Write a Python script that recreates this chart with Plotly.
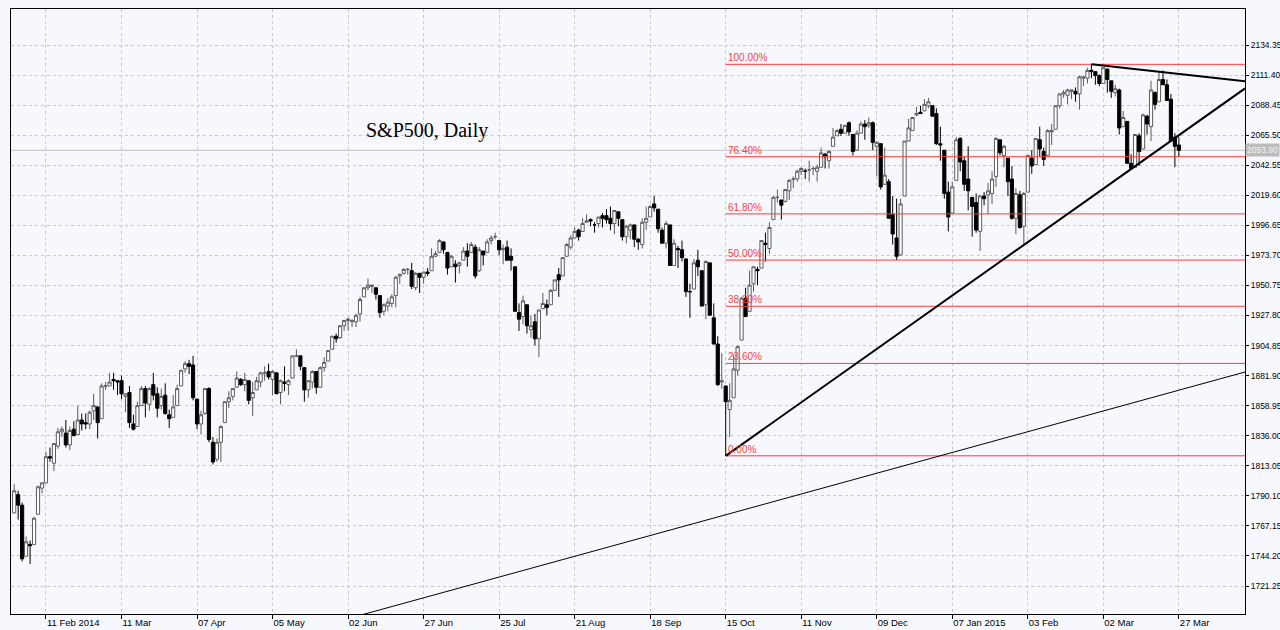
import pandas as pd
import plotly.graph_objects as go

# ---------------- data ----------------
holidays = ["2014-02-17", "2014-04-18", "2014-05-26", "2014-07-04", "2014-09-01",
            "2014-11-27", "2014-12-25", "2015-01-01"]
dates = pd.bdate_range("2014-01-30", "2015-03-27", freq="C", holidays=holidays)
date_strs = [d.strftime("%Y-%m-%d") for d in dates]

opens = [
    1777, 1791,
    1783, 1744, 1753, 1753, 1776, 1796, 1800, 1820, 1815, 1828, 1839, 1838, 1829, 1841, 1837, 1848, 1846, 1845, 1855,
    1858, 1849, 1874, 1874, 1879, 1878, 1878, 1866, 1869, 1845, 1843, 1859, 1872, 1860, 1875, 1868, 1859, 1867, 1852, 1850, 1859,
    1874, 1887, 1891, 1890, 1864, 1845, 1853, 1872, 1831, 1818, 1831, 1846, 1862, 1866, 1873, 1879, 1875, 1878, 1865, 1871, 1877,
    1884, 1885, 1879, 1884, 1869, 1877, 1875, 1880, 1897, 1897, 1888, 1871, 1877, 1885, 1873, 1888, 1893, 1902, 1912, 1911, 1920,
    1924, 1923, 1923, 1929, 1942, 1949, 1950, 1949, 1943, 1931, 1935, 1937, 1943, 1958, 1960, 1963, 1962, 1949, 1960, 1957, 1961,
    1962, 1973, 1976, 1984, 1976, 1965, 1967, 1966, 1970, 1977, 1976, 1980, 1962, 1977, 1976, 1985, 1988, 1985, 1978, 1980, 1973, 1965,
    1930, 1927, 1936, 1917, 1923, 1910, 1933, 1936, 1936, 1947, 1959, 1958, 1973, 1980, 1987, 1993, 1992, 1999, 2001, 1997, 1998,
    2004, 2004, 2002, 1998, 2007, 2001, 1988, 1993, 1997, 1986, 1982, 1999, 2003, 2013, 2009, 1993, 1983, 1997, 1966, 1979, 1978,
    1971, 1946, 1948, 1970, 1962, 1936, 1968, 1926, 1906, 1877, 1874, 1856, 1865, 1886, 1909, 1941, 1931, 1952, 1963, 1964, 1983, 1979, 2001,
    2018, 2016, 2015, 2023, 2032, 2032, 2038, 2038, 2039, 2040, 2038, 2041, 2051, 2046, 2057, 2065, 2070, 2067, 2075,
    2066, 2054, 2067, 2074, 2073, 2075, 2057, 2059, 2028, 2030, 2005, 1987, 1974, 2019, 2061, 2069, 2081, 2083, 2084, 2088, 2088, 2082,
    2059, 2054, 2022, 2006, 2031, 2063, 2046, 2032, 2018, 2014, 1992, 2019, 2020, 2021, 2034, 2062, 2050, 2048, 2032, 2002, 2020,
    1996, 2022, 2048, 2043, 2062, 2053, 2050, 2068, 2070, 2088, 2097, 2096, 2099, 2099, 2097, 2109, 2109, 2115, 2114, 2111,
    2105, 2116, 2107, 2098, 2100, 2072, 2076, 2044, 2041, 2065, 2055, 2080, 2072, 2098, 2091, 2108, 2104, 2093, 2064, 2058,
]
highs = [
    1799, 1794,
    1785, 1759, 1756, 1774, 1798, 1800, 1824, 1827, 1830, 1842, 1843, 1848, 1843, 1847, 1859, 1853, 1853, 1855, 1868,
    1858, 1876, 1877, 1884, 1884, 1878, 1882, 1868, 1874, 1852, 1862, 1874, 1874, 1873, 1884, 1873, 1872, 1876, 1856, 1867, 1875,
    1886, 1893, 1894, 1897, 1864, 1855, 1872, 1873, 1835, 1834, 1844, 1862, 1870, 1872, 1885, 1880, 1884, 1878, 1877, 1881, 1885,
    1889, 1891, 1886, 1884, 1879, 1889, 1879, 1897, 1902, 1897, 1888, 1878, 1886, 1885, 1889, 1896, 1901, 1912, 1914, 1920, 1924,
    1926, 1925, 1929, 1942, 1949, 1956, 1951, 1949, 1943, 1937, 1941, 1944, 1958, 1960, 1964, 1964, 1968, 1961, 1960, 1961, 1964,
    1979, 1977, 1986, 1984, 1976, 1974, 1970, 1969, 1980, 1983, 1984, 1982, 1980, 1977, 1986, 1989, 1991, 1985, 1982, 1985, 1979, 1965,
    1937, 1943, 1936, 1928, 1929, 1932, 1945, 1940, 1948, 1955, 1964, 1972, 1983, 1989, 1995, 1994, 2002, 2005, 2002, 1999, 2003,
    2006, 2009, 2011, 2008, 2007, 2001, 1997, 1998, 1997, 1987, 2002, 2011, 2012, 2019, 2009, 1995, 2000, 1997, 1986, 1981, 1985,
    1971, 1952, 1971, 1978, 1962, 1970, 1968, 1937, 1912, 1899, 1874, 1876, 1898, 1905, 1942, 1949, 1962, 1965, 1965, 1985, 1991, 1999, 2019,
    2024, 2016, 2024, 2032, 2034, 2039, 2041, 2040, 2046, 2042, 2043, 2056, 2052, 2054, 2071, 2070, 2074, 2073, 2076,
    2066, 2069, 2076, 2077, 2079, 2076, 2061, 2059, 2056, 2032, 2019, 2017, 2017, 2061, 2078, 2079, 2087, 2088, 2093, 2094, 2088, 2086,
    2072, 2054, 2030, 2030, 2064, 2064, 2049, 2057, 2018, 2021, 2020, 2022, 2029, 2038, 2064, 2062, 2058, 2048, 2042, 2025, 2023,
    2022, 2050, 2054, 2063, 2072, 2056, 2070, 2074, 2088, 2097, 2100, 2101, 2100, 2102, 2111, 2111, 2117, 2119.6, 2114, 2112,
    2117, 2116, 2107, 2104, 2101, 2084, 2076, 2051, 2066, 2067, 2082, 2081, 2107, 2099, 2114, 2115, 2108, 2097, 2067, 2064,
]
lows = [
    1777, 1772,
    1740, 1744, 1738, 1753, 1776, 1792, 1800, 1816, 1809, 1826, 1835, 1827, 1825, 1836, 1837, 1840, 1841, 1841, 1848,
    1834, 1849, 1871, 1874, 1871, 1867, 1864, 1854, 1842, 1840, 1843, 1859, 1850, 1855, 1863, 1850, 1856, 1852, 1842, 1850, 1859,
    1874, 1884, 1883, 1863, 1841, 1837, 1852, 1831, 1814, 1816, 1816, 1846, 1857, 1863, 1873, 1874, 1870, 1860, 1851, 1871, 1873,
    1878, 1879, 1867, 1868, 1860, 1870, 1867, 1880, 1896, 1886, 1862, 1865, 1872, 1868, 1873, 1885, 1893, 1902, 1907, 1910, 1916,
    1916, 1919, 1919, 1923, 1942, 1947, 1945, 1940, 1926, 1928, 1931, 1934, 1934, 1952, 1959, 1959, 1948, 1947, 1945, 1952, 1958,
    1962, 1973, 1976, 1975, 1959, 1965, 1953, 1960, 1970, 1965, 1976, 1956, 1961, 1966, 1976, 1982, 1986, 1974, 1967, 1970, 1962, 1931,
    1916, 1921, 1914, 1911, 1905, 1896, 1933, 1928, 1936, 1947, 1942, 1958, 1973, 1978, 1987, 1985, 1992, 1999, 1996, 1991, 1995,
    1995, 1998, 1993, 1990, 1996, 1985, 1983, 1986, 1980, 1978, 1979, 1993, 2003, 2007, 1991, 1983, 1979, 1966, 1966, 1964, 1969,
    1942, 1926, 1948, 1958, 1935, 1925, 1928, 1906, 1874, 1872, 1820.7, 1835, 1865, 1882, 1909, 1927, 1931, 1946, 1951, 1964, 1969, 1975, 2001,
    2014, 2001, 2014, 2016, 2025, 2030, 2035, 2032, 2030, 2035, 2030, 2041, 2040, 2040, 2057, 2065, 2065, 2067, 2065,
    2050, 2054, 2067, 2062, 2071, 2054, 2034, 2024, 2028, 2002, 1982, 1970, 1974, 2019, 2061, 2069, 2080, 2082, 2084, 2086, 2080, 2058,
    2046, 2017, 1992, 2006, 2031, 2038, 2023, 2008, 1988, 1991, 1977, 2012, 2005, 2013, 2026, 2050, 2041, 2019, 2001, 1990, 1994,
    1981, 2022, 2036, 2043, 2049, 2042, 2050, 2058, 2070, 2086, 2094, 2089, 2093, 2091, 2085, 2103, 2105, 2109, 2104, 2103,
    2105, 2098, 2094, 2095, 2066, 2072, 2044, 2040, 2041, 2042, 2055, 2066, 2061, 2085, 2091, 2104, 2092, 2061, 2041, 2049,
]
closes = [
    1794, 1783,
    1742, 1755, 1752, 1773, 1797, 1800, 1820, 1819, 1830, 1839, 1841, 1829, 1840, 1836, 1848, 1845, 1845, 1854, 1859,
    1846, 1874, 1874, 1877, 1878, 1877, 1868, 1868, 1846, 1841, 1859, 1872, 1861, 1872, 1867, 1857, 1866, 1853, 1849, 1858, 1872,
    1886, 1891, 1889, 1865, 1845, 1852, 1872, 1833, 1816, 1831, 1843, 1862, 1865, 1872, 1880, 1875, 1879, 1863, 1869, 1878, 1884,
    1884, 1881, 1885, 1868, 1878, 1876, 1878, 1897, 1897, 1889, 1871, 1878, 1885, 1873, 1888, 1892, 1901, 1912, 1910, 1920, 1924,
    1925, 1924, 1928, 1940, 1949, 1951, 1951, 1944, 1930, 1936, 1938, 1942, 1957, 1959, 1963, 1963, 1950, 1960, 1957, 1961, 1960,
    1973, 1975, 1985, 1978, 1964, 1973, 1965, 1968, 1977, 1973, 1982, 1958, 1978, 1974, 1984, 1987, 1988, 1978, 1979, 1970, 1970, 1931,
    1925, 1939, 1920, 1920, 1910, 1932, 1937, 1934, 1947, 1955, 1955, 1972, 1982, 1987, 1992, 1988, 1998, 2000, 2000, 1997, 2003,
    2002, 2001, 1998, 2008, 2002, 1988, 1996, 1997, 1986, 1984, 1999, 2002, 2011, 2010, 1994, 1983, 1998, 1966, 1983, 1978, 1972,
    1946, 1946, 1968, 1965, 1935, 1969, 1928, 1906, 1875, 1878, 1862, 1863, 1887, 1904, 1941, 1927, 1951, 1965, 1962, 1985, 1982, 1995, 2018,
    2018, 2012, 2024, 2031, 2032, 2038, 2040, 2038, 2039, 2040, 2041, 2052, 2049, 2053, 2064, 2069, 2067, 2073, 2068,
    2053, 2067, 2074, 2072, 2075, 2060, 2060, 2026, 2035, 2002, 1990, 1973, 2013, 2061, 2071, 2079, 2082, 2082, 2089, 2091, 2080, 2059,
    2058, 2021, 2003, 2026, 2062, 2045, 2028, 2023, 2011, 1993, 2019, 2017, 2023, 2032, 2063, 2052, 2057, 2030, 2002, 2021, 1995,
    2021, 2050, 2042, 2063, 2055, 2047, 2069, 2069, 2088, 2097, 2098, 2100, 2100, 2097, 2110, 2110, 2115, 2114, 2111, 2105,
    2117, 2108, 2099, 2101, 2071, 2079, 2044, 2040, 2066, 2053, 2081, 2074, 2100, 2089, 2108, 2104, 2092, 2061, 2057, 2053.9,
]

tick_dates = ["2014-02-11", "2014-03-11", "2014-04-07", "2014-05-05", "2014-06-02", "2014-06-27",
              "2014-07-25", "2014-08-21", "2014-09-18", "2014-10-15", "2014-11-11", "2014-12-09",
              "2015-01-07", "2015-02-03", "2015-03-02", "2015-03-27"]
tick_labels = ["11 Feb 2014", "11 Mar", "07 Apr", "05 May", "02 Jun", "27 Jun", "25 Jul", "21 Aug",
               "18 Sep", "15 Oct", "11 Nov", "09 Dec", "07 Jan 2015", "03 Feb", "02 Mar", "27 Mar"]

price_ticks = [2134.35, 2111.40, 2088.45, 2065.50, 2042.55, 2019.60, 1996.65, 1973.70, 1950.75,
               1927.80, 1904.85, 1881.90, 1858.95, 1836.00, 1813.05, 1790.10, 1767.15, 1744.20, 1721.25]

last_price = 2053.90

# Fibonacci retracement (anchored on the 15 Oct low and the 25 Feb high)
fib_low_date, fib_low = "2014-10-15", 1820.66
fib_high = 2119.59
fib_levels = [1.0, 0.764, 0.618, 0.5, 0.382, 0.236, 0.0]
fib_texts = ["100.00%", "76.40%", "61.80%", "50.00%", "38.20%", "23.60%", "0.00%"]

# trend lines: two anchor points (date, price) each
trend_up = [("2014-10-15", 1820.66), ("2015-03-11", 2039.69)]
trend_down = [("2015-02-25", 2119.59), ("2015-03-20", 2113.92)]
trend_long = [("2014-06-06", 1699.7), ("2015-01-02", 1820.7)]

title_text = "S&P500, Daily"
title_anchor = ("2014-06-06", 2069.0)

# ---------------- figure ----------------
n = len(dates)
assert n == len(opens) == len(highs) == len(lows) == len(closes) == 294, (n, len(opens), len(highs), len(lows), len(closes))
xs = list(range(n))
idx = {d: i for i, d in enumerate(date_strs)}
tickvals = [idx[d] for d in tick_dates]

x_range = [-0.8, 309.64]
y_range = [1699.87, 2161.84]

fig = go.Figure()
fig.add_trace(go.Candlestick(
    x=xs, open=opens, high=highs, low=lows, close=closes,
    increasing=dict(line=dict(color="#5c5c5c", width=1), fillcolor="#ffffff"),
    decreasing=dict(line=dict(color="#000000", width=1), fillcolor="#000000"),
    whiskerwidth=0, showlegend=False, hoverinfo="skip",
))

shapes = []
annotations = []

# current price line
shapes.append(dict(type="line", xref="paper", x0=0, x1=1, yref="y", y0=last_price, y1=last_price,
                   line=dict(color="#c4c4c4", width=1), layer="below"))

# fib levels
fx0 = idx[fib_low_date]
for lvl, txt in zip(fib_levels, fib_texts):
    yv = fib_low + lvl * (fib_high - fib_low)
    shapes.append(dict(type="line", xref="x", yref="y", x0=fx0, x1=x_range[1], y0=yv, y1=yv,
                       line=dict(color="#ff3b3b", width=1)))
    annotations.append(dict(x=fx0, y=yv, xref="x", yref="y", text=txt, showarrow=False,
                            xanchor="left", yanchor="bottom", yshift=-1,
                            font=dict(family="Liberation Sans, Arial, sans-serif", size=10, color="#ff4040")))


def ray(anchors, x_start, x_end):
    (d0, p0), (d1, p1) = anchors
    i0, i1 = idx[d0], idx[d1]
    slope = (p1 - p0) / (i1 - i0)
    return (x_start, p0 + (x_start - i0) * slope, x_end, p0 + (x_end - i0) * slope)


for anchors, start, width in [(trend_up, idx[trend_up[0][0]], 2),
                              (trend_down, idx[trend_down[0][0]], 2),
                              (trend_long, x_range[0], 1)]:
    a, b, c, d = ray(anchors, start, x_range[1])
    shapes.append(dict(type="line", xref="x", yref="y", x0=a, y0=b, x1=c, y1=d,
                       line=dict(color="#000000", width=width)))

# chart title text
annotations.append(dict(x=idx[title_anchor[0]], y=title_anchor[1], xref="x", yref="y", text=title_text,
                        showarrow=False, xanchor="left", yanchor="middle",
                        font=dict(family="Liberation Serif, Times New Roman, serif", size=20, color="#000000")))

# last price box on the axis
annotations.append(dict(x=1, y=last_price, xref="paper", yref="y", text=f"{last_price:.2f}",
                        showarrow=False, xanchor="left", yanchor="middle", xshift=0,
                        bgcolor="#bcbcbc", borderpad=1,
                        font=dict(family="Liberation Sans, Arial, sans-serif", size=8.5, color="#f4f4f4")))

axis_font = dict(family="Liberation Sans, Arial, sans-serif", size=8.5, color="#000000")
fig.update_layout(
    width=1280, height=630,
    margin=dict(l=11, r=35, t=9, b=16, autoexpand=False),
    paper_bgcolor="#f7f8fd", plot_bgcolor="#f7f8fd",
    boxgap=0.12, boxgroupgap=0.1,
    shapes=shapes, annotations=annotations,
    xaxis=dict(range=x_range, tickvals=tickvals, ticktext=tick_labels, ticks="outside", ticklen=4,
               tickcolor="#000000", ticklabelposition="outside right", tickfont=dict(axis_font, size=9.5),
               showgrid=True, gridcolor="#c9c9c9", griddash="3px,3px", gridwidth=1, automargin=False,
               showline=True, linecolor="#000000", linewidth=1, mirror=True, zeroline=False,
               rangeslider=dict(visible=False), fixedrange=True),
    yaxis=dict(range=y_range, side="right", tickvals=price_ticks, ticktext=[f"{v:.2f}" for v in price_ticks],
               ticks="outside", ticklen=3, tickcolor="#000000", tickfont=axis_font, automargin=False,
               showgrid=True, gridcolor="#c9c9c9", griddash="3px,3px", gridwidth=1,
               showline=True, linecolor="#000000", linewidth=1, mirror=True, zeroline=False, fixedrange=True),
    hovermode=False,
)

fig.write_html("out.html")
